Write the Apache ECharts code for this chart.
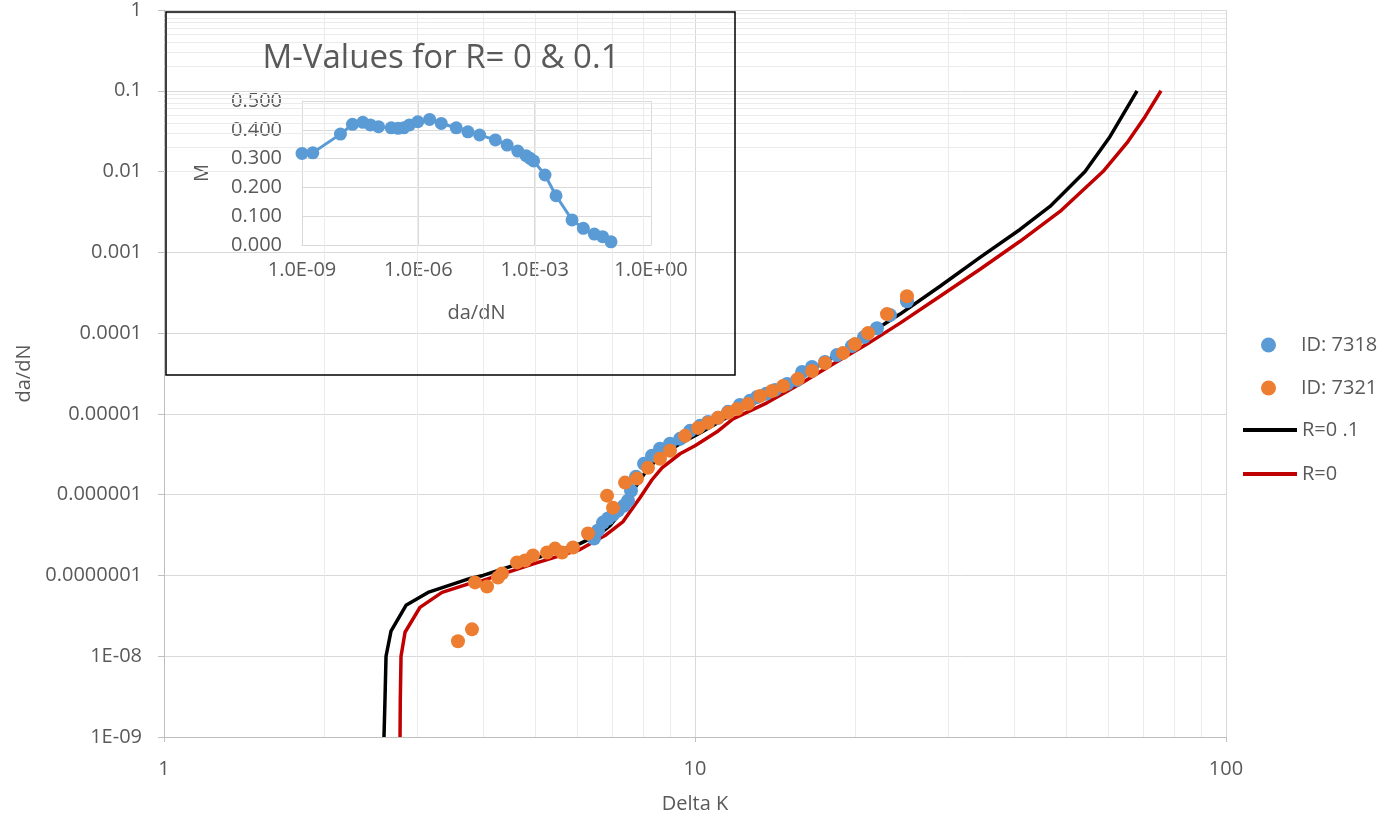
<!DOCTYPE html>
<html>
<head>
<meta charset="utf-8">
<script src="https://cdn.jsdelivr.net/npm/echarts@6/dist/echarts.min.js"></script>
<style>
  html, body { margin: 0; padding: 0; background: #ffffff; }
  #chart { width: 1380px; height: 820px; }
</style>
</head>
<body>
<div id="chart"></div>
<script>
// Crack growth rate vs. stress intensity range (log-log), with an M-value inset.

// Test ID 7318: Delta K, da/dN
const blueK = [6.453, 6.566, 6.710, 6.858, 7.009, 7.161, 7.350, 7.479, 7.577, 7.743, 8.017, 8.299, 8.592, 8.973, 9.372, 9.786, 10.22, 10.58, 11.05, 11.54, 12.15, 12.69, 13.09, 13.61, 14.15, 14.91, 15.56, 15.91, 16.61, 17.57, 18.51, 19.75, 20.81, 22.01, 23.29, 25.07];
const blueRate = [2.86e-7, 3.60e-7, 4.51e-7, 5.06e-7, 5.66e-7, 6.34e-7, 7.31e-7, 8.43e-7, 1.12e-6, 1.67e-6, 2.41e-6, 3.03e-6, 3.70e-6, 4.26e-6, 4.91e-6, 6.17e-6, 7.11e-6, 7.96e-6, 8.93e-6, 1.06e-5, 1.29e-5, 1.45e-5, 1.62e-5, 1.77e-5, 1.98e-5, 2.34e-5, 2.63e-5, 3.30e-5, 3.80e-5, 4.38e-5, 5.35e-5, 6.91e-5, 8.93e-5, 1.15e-4, 1.67e-4, 2.48e-4];

// Test ID 7321: Delta K, da/dN
const orangeK = [3.578, 3.802, 3.852, 4.058, 4.256, 4.330, 4.622, 4.785, 4.954, 5.264, 5.450, 5.618, 5.892, 6.288, 6.829, 7.009, 7.384, 7.778, 8.155, 8.592, 8.973, 9.576, 10.13, 10.58, 11.05, 11.54, 12.00, 12.58, 13.26, 13.96, 14.65, 15.63, 16.61, 17.57, 19.00, 20.01, 21.18, 22.99, 25.07];
const orangeRate = [1.53e-8, 2.15e-8, 8.20e-8, 7.31e-8, 9.44e-8, 1.06e-7, 1.45e-7, 1.53e-7, 1.77e-7, 1.92e-7, 2.15e-7, 1.92e-7, 2.22e-7, 3.30e-7, 9.72e-7, 6.91e-7, 1.41e-6, 1.58e-6, 2.15e-6, 2.78e-6, 3.49e-6, 5.35e-6, 6.71e-6, 7.74e-6, 8.93e-6, 1.03e-5, 1.15e-5, 1.33e-5, 1.67e-5, 1.92e-5, 2.22e-5, 2.71e-5, 3.40e-5, 4.27e-5, 5.66e-5, 7.31e-5, 1.00e-4, 1.72e-4, 2.86e-4];

// Model curve, R = 0.1
const r01K = [2.596, 2.607, 2.619, 2.676, 2.856, 3.142, 3.771, 3.989, 4.995, 6.073, 6.624, 6.918, 7.289, 7.643, 8.051, 8.592, 9.372, 10.22, 11.79, 13.66, 15.77, 18.20, 21.09, 24.33, 28.94, 34.42, 40.94, 46.62, 54.27, 60.46, 68.00];
const r01Rate = [1e-9, 2.86e-9, 1e-8, 2.04e-8, 4.27e-8, 6.17e-8, 9.18e-8, 1.0e-7, 1.62e-7, 2.48e-7, 3.30e-7, 4.14e-7, 6.34e-7, 1.12e-6, 1.87e-6, 3.03e-6, 4.26e-6, 5.82e-6, 1.0e-5, 1.62e-5, 2.86e-5, 5.06e-5, 9.45e-5, 1.72e-4, 3.80e-4, 8.67e-4, 1.92e-3, 3.70e-3, 0.01, 0.027, 0.1];

// Model curve, R = 0
const r0K = [2.783, 2.786, 2.795, 2.844, 3.034, 3.339, 3.771, 3.989, 4.995, 6.073, 6.769, 7.321, 7.878, 8.299, 8.666, 9.372, 10.0, 11.0, 11.79, 13.66, 15.77, 18.20, 21.09, 24.33, 28.94, 34.42, 40.94, 48.69, 58.66, 65.37, 70.40, 75.44];
const r0Rate = [1e-9, 2.86e-9, 1e-8, 1.98e-8, 4.03e-8, 6.17e-8, 7.96e-8, 8.67e-8, 1.41e-7, 2.09e-7, 3.12e-7, 4.65e-7, 9.18e-7, 1.53e-6, 2.15e-6, 3.21e-6, 4.03e-6, 6.0e-6, 8.67e-6, 1.37e-5, 2.34e-5, 4.14e-5, 7.31e-5, 1.33e-4, 2.86e-4, 6.17e-4, 1.37e-3, 3.21e-3, 0.01, 0.0235, 0.0478, 0.1];

// Inset: M vs da/dN
const insetRate = [1e-9, 1.9e-9, 9.8e-9, 2.0e-8, 3.7e-8, 5.8e-8, 9.4e-8, 2.0e-7, 3.0e-7, 4.2e-7, 5.9e-7, 9.7e-7, 1.95e-6, 3.9e-6, 9.5e-6, 1.9e-5, 3.8e-5, 9.7e-5, 1.95e-4, 3.66e-4, 6.0e-4, 7.6e-4, 9.4e-4, 1.85e-3, 3.56e-3, 9.2e-3, 1.8e-2, 3.45e-2, 5.65e-2, 9.3e-2];
const insetM = [0.318, 0.320, 0.385, 0.419, 0.426, 0.417, 0.411, 0.407, 0.405, 0.407, 0.417, 0.428, 0.436, 0.422, 0.407, 0.393, 0.382, 0.365, 0.347, 0.326, 0.310, 0.301, 0.292, 0.243, 0.171, 0.087, 0.058, 0.038, 0.029, 0.011];

// Tick labels
const yTickLabels = ['1E-09', '1E-08', '0.0000001', '0.000001', '0.00001', '0.0001', '0.001', '0.01', '0.1', '1'];
const xTickLabels = ['1', '10', '100'];
const insetXTickLabels = ['1.0E-09', '1.0E-06', '1.0E-03', '1.0E+00'];

const TEXT = '#595959';
const FONT = 'Open Sans';

const zip = (a, b) => a.map((v, i) => [v, b[i]]);
const dec = v => Math.round(Math.log10(v));

// log-decade minor grid positions (2..9 within each decade)
const minorX = [];
for (let e = 0; e < 2; e++) for (let m = 2; m <= 9; m++) minorX.push(m * Math.pow(10, e));
const minorY = [];
for (let e = -9; e < 0; e++) for (let m = 2; m <= 9; m++) minorY.push(m * Math.pow(10, e));

const chart = echarts.init(document.getElementById('chart'), null, { renderer: 'canvas' });

const legendBase = {
  orient: 'vertical',
  selectedMode: false,
  padding: 0,
  textStyle: { color: TEXT, fontSize: 20, fontFamily: FONT, lineHeight: 20 }
};

chart.setOption({
  animation: false,
  backgroundColor: '#ffffff',
  textStyle: { fontFamily: FONT },
  title: {
    text: 'M-Values for R= 0 & 0.1',
    left: 441,
    top: 42,
    padding: 0,
    textAlign: 'center',
    textStyle: { color: TEXT, fontSize: 33, fontWeight: 'normal', fontFamily: FONT }
  },
  legend: [
    Object.assign({}, legendBase, {
      data: [{ name: 'ID: 7318', icon: 'circle' }],
      left: 1261, top: 335, itemWidth: 15, itemHeight: 15,
      textStyle: Object.assign({}, legendBase.textStyle, { padding: [0, 0, 0, 20] })
    }),
    Object.assign({}, legendBase, {
      data: [{ name: 'ID: 7321', icon: 'circle' }],
      left: 1261, top: 378, itemWidth: 15, itemHeight: 15,
      textStyle: Object.assign({}, legendBase.textStyle, { padding: [0, 0, 0, 20] })
    }),
    Object.assign({}, legendBase, {
      data: [{ name: 'R=0 .1', icon: 'rect' }],
      left: 1243, top: 420, itemWidth: 54, itemHeight: 4
    }),
    Object.assign({}, legendBase, {
      data: [{ name: 'R=0', icon: 'rect' }],
      left: 1243, top: 464, itemWidth: 54, itemHeight: 4
    })
  ],
  grid: [
    { left: 164, top: 8, width: 1062, height: 729 },
    { left: 302, top: 101, width: 349, height: 144 }
  ],
  xAxis: [
    {
      gridIndex: 0, type: 'log', logBase: 10, min: 1, max: 100,
      name: 'Delta K', nameLocation: 'middle', nameGap: 57,
      nameTextStyle: { color: TEXT, fontSize: 20, fontFamily: FONT },
      axisLine: { show: true, lineStyle: { color: '#bfbfbf', width: 1 } },
      axisTick: { show: true, length: 5, lineStyle: { color: '#bfbfbf' } },
      axisLabel: { color: TEXT, fontSize: 20, margin: 22, fontFamily: FONT,
        formatter: v => xTickLabels[dec(v)] },
      splitLine: { show: true, lineStyle: { color: '#d9d9d9', width: 1 } }
    },
    {
      gridIndex: 1, type: 'log', logBase: 10, min: 1e-9, max: 1, interval: 3,
      name: 'da/dN', nameLocation: 'middle', nameGap: 58,
      nameTextStyle: { color: TEXT, fontSize: 20, fontFamily: FONT },
      axisLine: { show: true, lineStyle: { color: '#d9d9d9', width: 1 } },
      axisTick: { show: false },
      axisLabel: { color: TEXT, fontSize: 20, margin: 15, fontFamily: FONT,
        formatter: v => insetXTickLabels[Math.round((dec(v) + 9) / 3)] },
      splitLine: { show: true, lineStyle: { color: '#d9d9d9', width: 1 } }
    }
  ],
  yAxis: [
    {
      gridIndex: 0, type: 'log', logBase: 10, min: 1e-9, max: 1, interval: 1,
      name: 'da/dN', nameLocation: 'middle', nameGap: 124,
      nameTextStyle: { color: TEXT, fontSize: 20, fontFamily: FONT },
      axisLine: { show: true, lineStyle: { color: '#bfbfbf', width: 1 } },
      axisTick: { show: true, length: 6, lineStyle: { color: '#bfbfbf' } },
      axisLabel: { color: TEXT, fontSize: 20, margin: 22, fontFamily: FONT,
        formatter: v => yTickLabels[dec(v) + 9] },
      splitLine: { show: true, lineStyle: { color: '#d9d9d9', width: 1 } }
    },
    {
      gridIndex: 1, type: 'value', min: 0, max: 0.5, interval: 0.1,
      name: 'M', nameLocation: 'middle', nameGap: 90,
      nameTextStyle: { color: TEXT, fontSize: 20, fontFamily: FONT },
      axisLine: { show: true, lineStyle: { color: '#d9d9d9', width: 1 } },
      axisTick: { show: false },
      axisLabel: { color: TEXT, fontSize: 20, margin: 20, fontFamily: FONT,
        formatter: v => v.toFixed(3) },
      splitLine: { show: true, lineStyle: { color: '#d9d9d9', width: 1 } }
    }
  ],
  graphic: [
    {
      type: 'rect', silent: true, z: 10,
      shape: { x: 166, y: 12, width: 569, height: 363 },
      style: { fill: 'none', stroke: '#000000', lineWidth: 1.5 }
    }
  ],
  series: [
    {
      // minor log gridlines of the main plot
      type: 'line', name: 'minor-grid', xAxisIndex: 0, yAxisIndex: 0, data: [], z: 1,
      silent: true,
      markLine: {
        silent: true, z: 1, symbol: ['none', 'none'], animation: false,
        label: { show: false },
        lineStyle: { color: '#ebebeb', width: 1, type: 'solid' },
        emphasis: { disabled: true },
        data: minorX.map(v => ({ xAxis: v })).concat(minorY.map(v => ({ yAxis: v })))
      }
    },
    {
      name: 'R=0 .1', type: 'line', xAxisIndex: 0, yAxisIndex: 0, z: 2,
      data: zip(r01K, r01Rate), showSymbol: false, smooth: false,
      lineStyle: { color: '#000000', width: 3.5 }, itemStyle: { color: '#000000' }
    },
    {
      name: 'R=0', type: 'line', xAxisIndex: 0, yAxisIndex: 0, z: 2,
      data: zip(r0K, r0Rate), showSymbol: false, smooth: false,
      lineStyle: { color: '#c00000', width: 3.5 }, itemStyle: { color: '#c00000' }
    },
    {
      name: 'ID: 7318', type: 'scatter', xAxisIndex: 0, yAxisIndex: 0, z: 3,
      data: zip(blueK, blueRate), symbol: 'circle', symbolSize: 14,
      itemStyle: { color: '#5b9bd5', opacity: 1 }
    },
    {
      name: 'ID: 7321', type: 'scatter', xAxisIndex: 0, yAxisIndex: 0, z: 4,
      data: zip(orangeK, orangeRate), symbol: 'circle', symbolSize: 14,
      itemStyle: { color: '#ed7d31', opacity: 1 }
    },
    {
      name: 'M', type: 'line', xAxisIndex: 1, yAxisIndex: 1, z: 5,
      data: zip(insetRate, insetM), symbol: 'circle', symbolSize: 13, showSymbol: true,
      lineStyle: { color: '#5b9bd5', width: 3 }, itemStyle: { color: '#5b9bd5' }
    }
  ]
});
</script>
</body>
</html>
